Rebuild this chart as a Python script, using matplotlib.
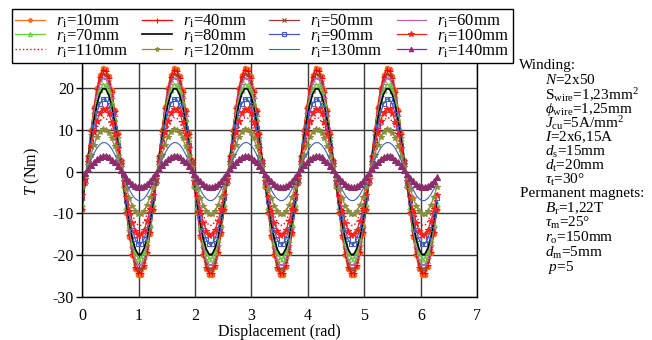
import numpy as np
import matplotlib
matplotlib.use("Agg")
import matplotlib.pyplot as plt

plt.rcParams["font.family"] = ["Liberation Serif", "DejaVu Serif"]
plt.rcParams["mathtext.fontset"] = "custom"
plt.rcParams["mathtext.rm"] = "Liberation Serif"
plt.rcParams["mathtext.it"] = "Liberation Serif:italic"
plt.rcParams["mathtext.bf"] = "Liberation Serif:bold"
plt.rcParams["axes.unicode_minus"] = False

# ---- Data ----
# inner radius of the rotor (mm) and peak torque of each design (Nm)
inner_radius = [10, 40, 50, 60, 70, 80, 90, 100, 110, 120, 130, 140]
peak_torque = [25.0, 24.5, 23.5, 22.5, 21.0, 20.0, 17.5, 15.2, 13.0, 10.2, 7.0, 3.7]

# normalised torque over one electrical period (3 deg mechanical steps)
period_shape = [-0.367, -0.113, 0.148, 0.399, 0.623, 0.804, 0.930, 0.994,
                0.989, 0.917, 0.783, 0.595, 0.367, 0.113, -0.148, -0.399,
                -0.623, -0.804, -0.930, -0.994, -0.989, -0.917, -0.783, -0.595]
pole_pairs = 5

angle_deg = np.arange(0, 361, 3)
displacement = np.deg2rad(angle_deg)
shape = np.append(np.tile(period_shape, pole_pairs), period_shape[0])

styles = [
    dict(color="#FF6A21", marker="o", ms=3.2),
    dict(color="#FF0000", marker="+", ms=4.5),
    dict(color="#A63A2A", marker="x", ms=3.5),
    dict(color="#C060B0", marker="_", ms=4.5),
    dict(color="#66CC33", marker="^", ms=3.5, mfc="none"),
    dict(color="black", lw=1.2),
    dict(color="#3F5FC0", marker="s", ms=3.0, mfc="none"),
    dict(color="#FF2020", marker="*", ms=5.0),
    dict(color="#FF0000", ls=":", lw=1.0),
    dict(color="#8C8C3C", marker="*", ms=4.0),
    dict(color="#4060C0", lw=0.8),
    dict(color="#8C2E6C", marker="^", ms=4.0),
]

fig = plt.figure(figsize=(6.52, 3.4), dpi=100)
ax = fig.add_axes([0.126, 0.1274, 0.606, 0.7358])

lines = []
for r, tp, st in zip(inner_radius, peak_torque, styles):
    kw = dict(lw=0.9, mew=0.8)
    kw.update(st)
    (ln,) = ax.plot(displacement, tp * shape, label=r"$r_{\rm i}$=%dmm" % r, **kw)
    lines.append(ln)

ax.set_xlim(0, 7)
ax.set_ylim(-30, 30)
ax.set_xticks(range(0, 8))
ax.set_yticks([-30, -20, -10, 0, 10, 20])
ax.grid(True, color="#3a3a3a", lw=1.0)
ax.set_axisbelow(True)
ax.tick_params(axis="y", direction="out", length=4, width=1, pad=2, labelsize=11.5)
ax.tick_params(axis="x", length=0, pad=8, labelsize=11.5)
for s in ax.spines.values():
    s.set_linewidth(1.0)

ax.set_xlabel("Displacement (rad)", fontsize=11.5, labelpad=0)
ax.set_ylabel(r"$T$ (Nm)", fontsize=11.5)
ax.yaxis.set_label_coords(-0.102, 0.5)

# legend filled row by row (4 columns)
order = [0, 4, 8, 1, 5, 9, 2, 6, 10, 3, 7, 11]
leg = fig.legend([lines[i] for i in order], [lines[i].get_label() for i in order],
                 ncol=4, loc="upper left", bbox_to_anchor=(12 / 652, 1 - 9 / 340),
                 borderaxespad=0, fontsize=12, handlelength=1.75, handletextpad=0.7,
                 columnspacing=0.85, labelspacing=-0.15, borderpad=0.2,
                 markerscale=0.8, fancybox=False, framealpha=1, edgecolor="black")
leg.get_frame().set_linewidth(1.0)

# machine parameters
W, H = 652, 340
params = [
    (519, 65, "Winding:"),
    (545, 80, r"$N$=2x50"),
    (545, 95, r"S$_{\rm wire}$=1,23mm$^2$"),
    (545, 109, r"$\phi_{\rm wire}$=1,25mm"),
    (545, 123, r"$J_{\rm cu}$=5A/mm$^2$"),
    (545, 137, r"$I$=2x6,15A"),
    (545, 152, r"$d_{\rm s}$=15mm"),
    (545, 166, r"$d_{\rm t}$=20mm"),
    (545, 180, r"$\tau_{\rm t}$=30°"),
    (520, 194, "Permanent magnets:"),
    (545, 209, r"$B_{\rm r}$=1,22T"),
    (545, 223, r"$\tau_{\rm m}$=25°"),
    (545, 238, r"$r_{\rm o}$=150mm"),
    (545, 253, r"$d_{\rm m}$=5mm"),
    (548, 267, r"$p$=5"),
]
for x, y, t in params:
    fig.text(x / W, 1 - y / H, t, fontsize=11, ha="left", va="center")

fig.savefig("out.png", dpi=100)
